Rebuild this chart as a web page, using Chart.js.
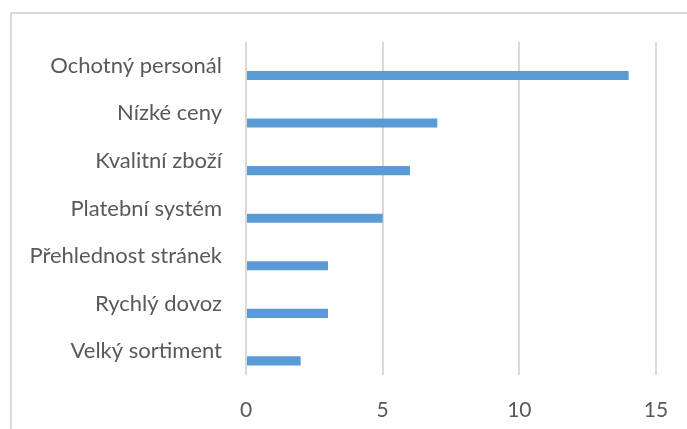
<!DOCTYPE html>
<html>
<head>
<meta charset="utf-8">
<script src="https://cdn.jsdelivr.net/npm/chart.js@4/dist/chart.umd.min.js"></script>
<style>
  html, body { margin: 0; padding: 0; background: #ffffff; }
  #wrap { position: relative; width: 687px; height: 429px; overflow: hidden; }
  #frame { position: absolute; left: 10px; top: 12px; width: 700px; height: 440px;
           border-left: 2px solid #dadada; border-top: 2px solid #dadada; }
  canvas { position: absolute; left: 0; top: 0; }
</style>
</head>
<body>
<div id="wrap">
  <div id="frame"></div>
  <canvas id="c" width="687" height="429"></canvas>
</div>
<script>
// Survey answers, listed top to bottom
const categories = [
  'Ochotný personál',
  'Nízké ceny',
  'Kvalitní zboží',
  'Platební systém',
  'Přehlednost stránek',
  'Rychlý dovoz',
  'Velký sortiment'
];
const counts = [14, 7, 6, 5, 3, 3, 2];
// Empty companion series that keeps the bars in the lower half of each row
const blank = [null, null, null, null, null, null, null];
const xTicks = [0, 5, 10, 15];

const FONT = 'Lato, "Open Sans", sans-serif';

new Chart(document.getElementById('c'), {
  type: 'bar',
  data: {
    labels: categories,
    datasets: [
      { label: 'Řada 2', data: blank, backgroundColor: '#5b9bd5' },
      { label: 'Řada 1', data: counts, backgroundColor: '#5b9bd5' }
    ]
  },
  options: {
    indexAxis: 'y',
    responsive: false,
    animation: false,
    datasets: { bar: { categoryPercentage: 0.815, barPercentage: 0.47 } },
    layout: { padding: { top: 42, right: 31, left: 0, bottom: 0 } },
    plugins: { legend: { display: false }, tooltip: { enabled: false } },
    scales: {
      x: {
        min: 0, max: 15,
        afterBuildTicks: (s) => { s.ticks = xTicks.map(v => ({ value: v })); },
        afterFit: (s) => { s.height = 54; s.paddingRight = 0; },
        grid: { color: '#d9d9d9', lineWidth: 2, drawTicks: false },
        border: { display: false },
        ticks: { padding: 23, color: '#595959', font: { family: FONT, size: 21 } }
      },
      y: {
        afterFit: (s) => { s.width = 246; },
        grid: { display: false, drawTicks: false },
        border: { display: false },
        ticks: { padding: 24, color: '#595959', font: { family: FONT, size: 22 } }
      }
    }
  }
});
</script>
</body>
</html>
